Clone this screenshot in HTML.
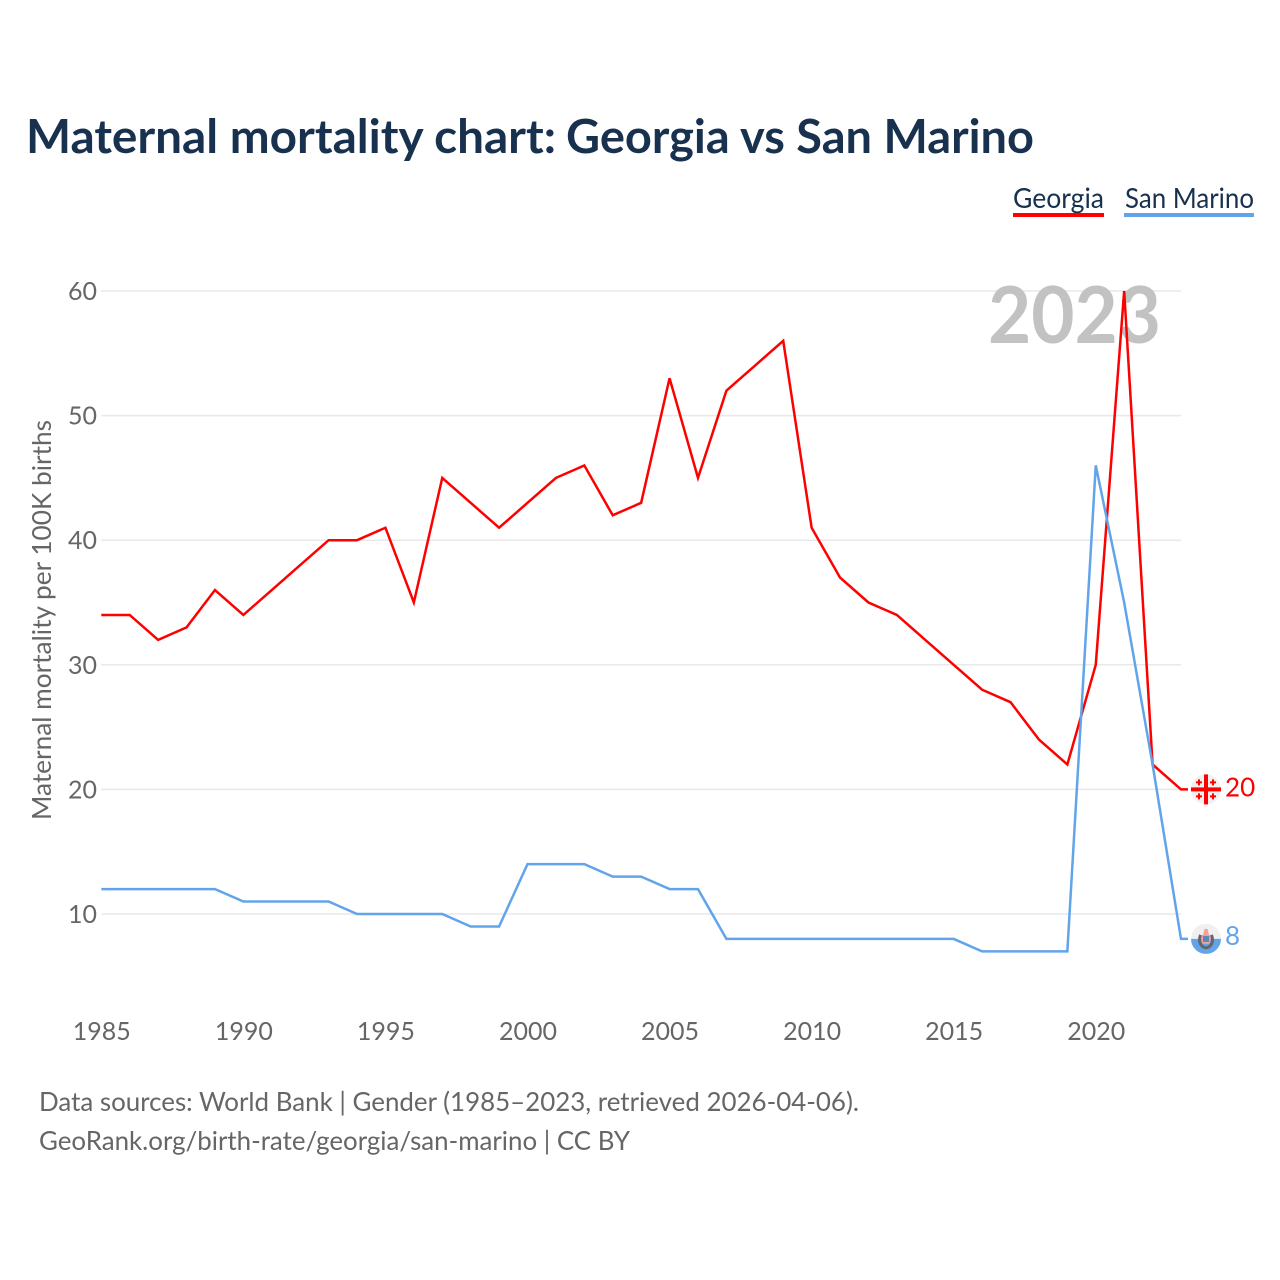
<!DOCTYPE html>
<html lang="en">
<head>
<meta charset="utf-8">
<title>Maternal mortality chart: Georgia vs San Marino</title>
<style>
html,body{margin:0;padding:0;background:#fff;width:1280px;height:1280px;overflow:hidden}
svg{display:block}
text{font-family:"Lato","Carlito","Liberation Sans",sans-serif}
</style>
</head>
<body>
<svg id="chart" xmlns="http://www.w3.org/2000/svg" width="1280" height="1280" viewBox="0 0 1280 1280">
  <rect width="1280" height="1280" fill="#fff"/>
  <text y="153" font-size="47" font-weight="700" fill="#18314f"><tspan x="26" textLength="530" lengthAdjust="spacingAndGlyphs">Maternal mortality chart:</tspan><tspan x="566" textLength="468" lengthAdjust="spacingAndGlyphs">Georgia vs San Marino</tspan></text>

  <g>
    <g>
      <text x="1013" y="208" font-size="28" fill="#18314f" textLength="91" lengthAdjust="spacingAndGlyphs">Georgia</text>
      <rect x="1013" y="213" width="91" height="4" fill="#ff0000"/>
    </g>
    <g>
      <text x="1125" y="208" font-size="28" fill="#18314f" textLength="129" lengthAdjust="spacingAndGlyphs">San Marino</text>
      <rect x="1124" y="213" width="130" height="4" fill="#62a4ea"/>
    </g>
  </g>

  <g id="grid"></g>
  <g id="y-ticks"></g>
  <g id="x-ticks"></g>

  <text transform="translate(51,620) rotate(-90)" text-anchor="middle" font-size="26" fill="#666" textLength="400" lengthAdjust="spacingAndGlyphs">Maternal mortality per 100K births</text>

  <text x="988" y="343" font-size="79" font-weight="700" fill="#c2c2c2" textLength="173" lengthAdjust="spacingAndGlyphs">2023</text>

  <g id="series"></g>

  <g id="flag-georgia">
    <circle cx="0" cy="0" r="15" fill="#f0f0f0"/>
    <rect x="-15" y="-2" width="30" height="4" fill="#ff0000"/>
    <rect x="-2" y="-15" width="4" height="30" fill="#ff0000"/>
    <g fill="#ff0000">
      <path d="M-8-10h2v2h2v2h-2v2h-2v-2h-2v-2h2z"/>
      <path d="M6-10h2v2h2v2h-2v2h-2v-2h-2v-2h2z"/>
      <path d="M-8 4h2v2h2v2h-2v2h-2v-2h-2v-2h2z"/>
      <path d="M6 4h2v2h2v2h-2v2h-2v-2h-2v-2h2z"/>
    </g>
  </g>
  <g id="flag-san-marino">
    <circle cx="0" cy="0" r="15" fill="#f0f0f0"/>
    <path d="M-15 0A15 15 0 0 0 15 0Z" fill="#62a4ea"/>
    <path d="M-5.5 -4C-8 3 -5.5 8 0 9C5.5 8 8 3 5.5 -4" fill="none" stroke="#666" stroke-width="3"/>
    <path d="M-4.5 -4h9v6l-1.5 3h-6l-1.5 -3z" fill="#f4a09a"/>
    <path d="M-3 -3h6v6h-6z" fill="#5d86b8"/>
    <path d="M-1.5 -10h3l1.5 6h-6z" fill="#f4a09a"/>
  </g>

  <text id="value-georgia" x="1225" y="796" font-size="26" fill="#ff0000"></text>
  <text id="value-san-marino" x="1225" y="944" font-size="26" fill="#62a4ea"></text>

  <g>
    <text x="39" y="1111" font-size="26.5" fill="#666" textLength="820" lengthAdjust="spacingAndGlyphs">Data sources: World Bank | Gender (1985–2023, retrieved 2026-04-06).</text>
    <text x="39" y="1150" font-size="26.5" fill="#666" textLength="591" lengthAdjust="spacingAndGlyphs">GeoRank.org/birth-rate/georgia/san-marino | CC BY</text>
  </g>
</svg>
<script>
const years = [1985,1986,1987,1988,1989,1990,1991,1992,1993,1994,1995,1996,1997,1998,1999,2000,2001,2002,2003,2004,2005,2006,2007,2008,2009,2010,2011,2012,2013,2014,2015,2016,2017,2018,2019,2020,2021,2022,2023];
const georgiaValues = [34,34,32,33,36,34,36,38,40,40,41,35,45,43,41,43,45,46,42,43,53,45,52,54,56,41,37,35,34,32,30,28,27,24,22,30,60,22,20];
const sanMarinoValues = [12,12,12,12,12,11,11,11,11,10,10,10,10,9,9,14,14,14,13,13,12,12,8,8,8,8,8,8,8,8,8,7,7,7,7,46,35,22,8];
const yTickValues = [10,20,30,40,50,60];
const xTickValues = [1985,1990,1995,2000,2005,2010,2015,2020];

const NS = 'http://www.w3.org/2000/svg';
const plotLeft = 101.3, plotRight = 1181, y60 = 291, y10 = 914;
const firstYear = years[0], lastYear = years[years.length - 1];

function xScale(year) {
  return plotLeft + (year - firstYear) * (plotRight - plotLeft) / (lastYear - firstYear);
}
function yScale(value) {
  return y10 + (value - 10) * (y60 - y10) / 50;
}
function make(tag, attrs, parent) {
  const el = document.createElementNS(NS, tag);
  for (const k in attrs) el.setAttribute(k, attrs[k]);
  parent.appendChild(el);
  return el;
}

const gridGroup = document.getElementById('grid');
const yTickGroup = document.getElementById('y-ticks');
const xTickGroup = document.getElementById('x-ticks');
const seriesGroup = document.getElementById('series');

yTickValues.forEach(function (v) {
  const line = make('line', {x1: plotLeft, x2: plotRight, y1: yScale(v), y2: yScale(v), stroke: '#e8e8e8', 'stroke-width': 1.5}, gridGroup);
  
  
  const label = make('text', {x: 97, y: yScale(v) + 9, 'text-anchor': 'end', 'font-size': 25, fill: '#666'}, yTickGroup);
  label.textContent = String(v);
  
  
});

xTickValues.forEach(function (yr) {
  const label = make('text', {x: xScale(yr) + 0.5, y: 1040, 'text-anchor': 'middle', 'font-size': 25, fill: '#666'}, xTickGroup);
  label.textContent = String(yr);
  
  
});

function pointsFor(values) {
  return values.map(function (v, i) {
    return xScale(years[i]).toFixed(2) + ',' + yScale(v).toFixed(2);
  });
}
function stubFor(values) {
  const last = yScale(values[values.length - 1]);
  return xScale(lastYear).toFixed(2) + ',' + last.toFixed(2) + ' ' + (plotRight + 7) + ',' + last.toFixed(2);
}

const georgiaLine = make('polyline', {points: pointsFor(georgiaValues).join(' ') + ' ' + stubFor(georgiaValues), fill: 'none', stroke: '#ff0000', 'stroke-width': 2.5, 'stroke-linejoin': 'miter'}, seriesGroup);



const sanMarinoLine = make('polyline', {points: pointsFor(sanMarinoValues).join(' ') + ' ' + stubFor(sanMarinoValues), fill: 'none', stroke: '#62a4ea', 'stroke-width': 2.5, 'stroke-linejoin': 'miter'}, seriesGroup);



const lastGeorgia = georgiaValues[georgiaValues.length - 1];
const lastSanMarino = sanMarinoValues[sanMarinoValues.length - 1];
document.getElementById('flag-georgia').setAttribute('transform', 'translate(1206,' + yScale(lastGeorgia) + ')');
document.getElementById('flag-san-marino').setAttribute('transform', 'translate(1206,' + yScale(lastSanMarino) + ')');
const valueGeorgia = document.getElementById('value-georgia');
valueGeorgia.textContent = String(lastGeorgia);
valueGeorgia.setAttribute('y', yScale(lastGeorgia) + 7);
const valueSanMarino = document.getElementById('value-san-marino');
valueSanMarino.textContent = String(lastSanMarino);
valueSanMarino.setAttribute('y', yScale(lastSanMarino) + 6);
</script>
</body>
</html>
